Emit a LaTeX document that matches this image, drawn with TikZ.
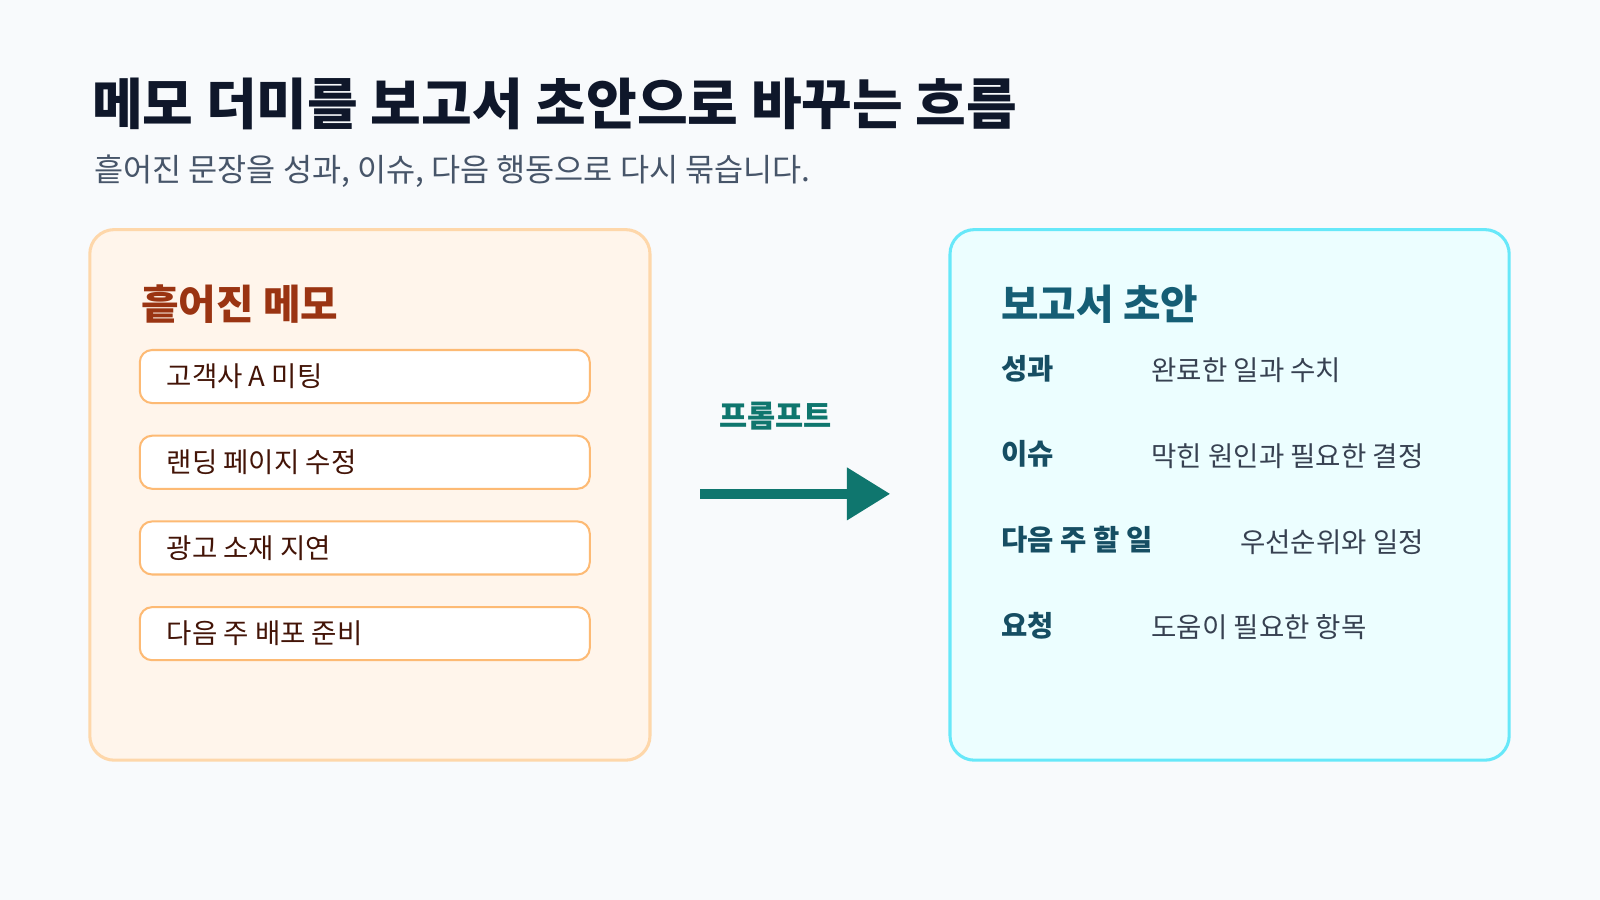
\documentclass[tikz,border=0pt]{standalone}
\usepackage{fontspec}
\setmainfont{Noto Sans CJK KR}
\newfontfamily\krb{Noto Sans CJK KR}[FakeBold=0,BoldFont={* Bold}]
\definecolor{bg}{HTML}{F8FAFC}
\definecolor{ttl}{HTML}{0F172A}
\definecolor{sub}{HTML}{475569}
\definecolor{lfill}{HTML}{FFF5EB}
\definecolor{lstroke}{HTML}{FED7AA}
\definecolor{istroke}{HTML}{FDBA74}
\definecolor{ltitle}{HTML}{9A3412}
\definecolor{itxt}{HTML}{431407}
\definecolor{teal}{HTML}{0F766E}
\definecolor{rfill}{HTML}{ECFEFF}
\definecolor{rstroke}{HTML}{67E8F9}
\definecolor{rtitle}{HTML}{155E75}
\definecolor{rlab}{HTML}{164E63}
\definecolor{rdesc}{HTML}{374151}
\begin{document}
\begin{tikzpicture}[x=0.5pt,y=-0.5pt,
  panel/.style={line width=1.5pt,rounded corners=12pt},
  item/.style={draw=istroke,fill=white,line width=1pt,rounded corners=6pt},
  itemtxt/.style={anchor=west,font=\fontsize{13.5}{16}\selectfont,text=itxt,inner sep=0},
  lab/.style={anchor=west,font=\fontsize{14}{16}\selectfont\bfseries,text=rlab,inner sep=0},
  desc/.style={anchor=west,font=\fontsize{13.5}{16}\selectfont,text=rdesc,inner sep=0}]
\fill[bg] (0,0) rectangle (1568,882);
\useasboundingbox (0,0) rectangle (1568,882);
\node[anchor=west,inner sep=0,text=ttl,font=\fontsize{27}{30}\selectfont\bfseries] (title) at (90,102) {메모 더미를 보고서 초안으로 바꾸는 흐름};
\node[anchor=west,inner sep=0,text=sub,font=\fontsize{15.5}{18}\selectfont] (subtitle) at (92,168) {흩어진 문장을 성과, 이슈, 다음 행동으로 다시 묶습니다.};
% left panel
\draw[panel,draw=lstroke,fill=lfill] (88,225) rectangle (637,745);
\node[anchor=west,inner sep=0,text=ltitle,font=\fontsize{20}{24}\selectfont\bfseries] (lt) at (138,298) {흩어진 메모};
\foreach \y/\t/\n in {369/고객사 A 미팅/a,453/랜딩 페이지 수정/b,537/광고 소재 지연/c,621/다음 주 배포 준비/d}{
  \draw[item] (137,\y-26) rectangle (578,\y+26);
  \node[itemtxt] (i\n) at (163,\y) {\t};
}
% arrow
\node[inner sep=0,text=teal,font=\fontsize{15}{18}\selectfont\bfseries] (pl) at (760,408) {프롬프트};
\coordinate (as) at (686,484);
\coordinate (ae) at (832,484);
\draw[teal,line width=5pt] (as) -- (ae);
\fill[teal] (830,458) -- (872,484) -- (830,510) -- cycle;
% right panel
\draw[panel,draw=rstroke,fill=rfill] (931,225) rectangle (1479,745);
\node[anchor=west,inner sep=0,text=rtitle,font=\fontsize{20}{24}\selectfont\bfseries] (rt) at (981,298) {보고서 초안};
\node[lab] (l1) at (981,361) {성과};
\node[desc] (d1) at (1128,363) {완료한 일과 수치};
\node[lab] (l2) at (981,445) {이슈};
\node[desc] (d2) at (1128,447) {막힌 원인과 필요한 결정};
\node[lab] (l3) at (981,529) {다음 주 할 일};
\node[desc] (d3) at (1215,531) {우선순위와 일정};
\node[lab] (l4) at (981,613) {요청};
\node[desc] (d4) at (1128,615) {도움이 필요한 항목};
\end{tikzpicture}
\end{document}
